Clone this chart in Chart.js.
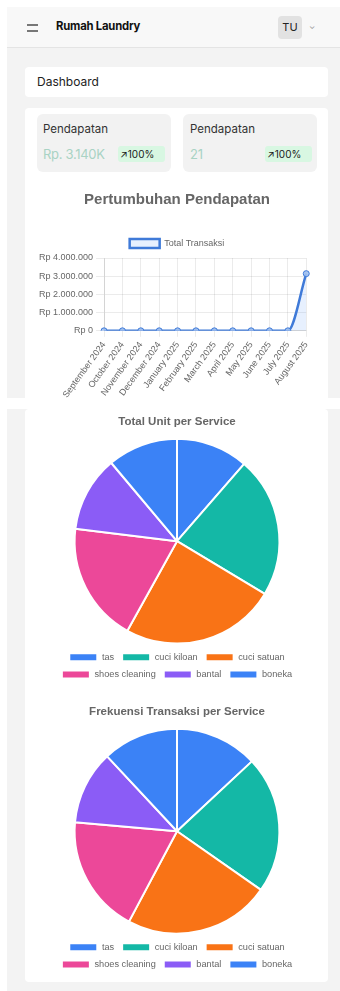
<!DOCTYPE html>
<html>
<head>
<meta charset="utf-8">
<script src="https://cdn.jsdelivr.net/npm/chart.js@4.4.1/dist/chart.umd.min.js"></script>
<style>
html,body{margin:0;padding:0;background:#ffffff;width:340px;height:991px;overflow:hidden;font-family:Inter,'Noto Sans',sans-serif;}
.abs{position:absolute;box-sizing:border-box;}
#page{left:7px;top:7px;width:333px;height:984px;background:#f3f3f3;}
#header{left:7px;top:7px;width:333px;height:41px;background:#f8f8f8;border-bottom:1px solid #e4e4e4;}
.ham{left:27px;width:11px;height:1.5px;background:#777;}
#brand{left:56px;top:19px;font-size:11.3px;font-weight:700;color:#111;letter-spacing:-0.2px;}
#avatar{left:278px;top:16px;width:24px;height:23px;background:#e2e2e2;border-radius:4px;font-size:11px;color:#222;text-align:center;line-height:23px;}
#chev{left:309px;top:21px;font-size:8px;color:#999;}
.card{background:#fff;border-radius:4px;}
#dash{left:25px;top:67px;width:303px;height:30px;}
#dashT{left:37px;top:74px;font-size:12px;color:#222;}
.stat{background:#f2f2f2;border-radius:6px;height:58px;top:114px;}
.statL{font-size:11.5px;color:#333;top:122px;}
.statV{font-size:13px;color:#a9d3c4;top:146px;letter-spacing:-0.3px;}
.badge{background:#d8f7e2;border-radius:3px;height:16px;top:146px;font-size:10px;color:#1a1a1a;line-height:16px;padding:0 2px;}
#band{left:0;top:398px;width:340px;height:11px;background:#fff;}
</style>
</head>
<body>
<div id="page" class="abs"></div>
<div id="header" class="abs"></div>
<div class="abs ham" style="top:24px"></div>
<div class="abs ham" style="top:30px"></div>
<div id="brand" class="abs">Rumah Laundry</div>
<div id="avatar" class="abs">TU</div>
<div id="chev" class="abs">&#8964;</div>

<div id="dash" class="abs card"></div>
<div id="dashT" class="abs">Dashboard</div>

<div class="abs card" style="left:25px;top:108px;width:303px;height:300px;"></div>
<div class="abs stat" style="left:37px;width:134px;"></div>
<div class="abs stat" style="left:183px;width:134px;"></div>
<div class="abs statL" style="left:43px;">Pendapatan</div>
<div class="abs statL" style="left:190px;">Pendapatan</div>
<div class="abs statV" style="left:43px;">Rp. 3.140K</div>
<div class="abs statV" style="left:190px;">21</div>
<div class="abs badge" style="left:118px;width:47px;">&#x2197;100%</div>
<div class="abs badge" style="left:265px;width:47px;">&#x2197;100%</div>

<div id="band" class="abs"></div>
<div class="abs card" style="left:25px;top:409px;width:303px;height:573px;"></div>

<div class="abs" style="left:36px;top:181px;width:282px;height:222px;"><canvas id="lineChart"></canvas></div>
<div class="abs" style="left:37px;top:405px;width:280px;height:284px;"><canvas id="pieUnit"></canvas></div>
<div class="abs" style="left:37px;top:695px;width:280px;height:284px;"><canvas id="pieFreq"></canvas></div>

<script>
// ---- data ----
const months = ['September 2024','October 2024','November 2024','December 2024','January 2025','February 2025','March 2025','April 2025','May 2025','June 2025','July 2025','August 2025'];
const revenue = [0,0,0,0,0,0,0,0,0,0,0,3140000];
const yTickStep = 1000000;
const yMax = 4000000;
const services = ['tas','cuci kiloan','cuci satuan','shoes cleaning','bantal','boneka'];
const unitPerService = [41, 80, 88, 68, 43, 40];
const freqPerService = [47, 78, 83, 67, 42, 43];
const serviceColors = ['#3b82f6','#14b8a6','#f97316','#ec4899','#8b5cf6','#3b82f6'];

const FONT = "'Liberation Sans', Arial, sans-serif";
Chart.defaults.font.family = FONT;
Chart.defaults.color = '#666';

function rupiah(v){
  const s = Math.round(v).toString().replace(/\B(?=(\d{3})+(?!\d))/g, '.');
  return 'Rp ' + s;
}

new Chart(document.getElementById('lineChart'), {
  type: 'line',
  data: {
    labels: months,
    datasets: [{
      label: 'Total Transaksi',
      data: revenue,
      borderColor: '#3f7ad8',
      backgroundColor: 'rgba(59,130,246,0.12)',
      borderWidth: 2.5,
      fill: true,
      cubicInterpolationMode: 'monotone',
      pointRadius: 3,
      pointBackgroundColor: 'rgba(160,192,240,0.9)',
      pointBorderColor: '#3f7ad8',
      pointBorderWidth: 1
    }]
  },
  options: {
    responsive: true,
    maintainAspectRatio: false,
    animation: false,
    plugins: {
      title: {display: true, text: 'Pertumbuhan Pendapatan', color: '#666', font: {size: 15, weight: 'bold'}, padding: {top: 10, bottom: 22}},
      legend: {labels: {font: {size: 9}, boxWidth: 30, boxHeight: 9, padding: 8}},
      tooltip: {enabled: false}
    },
    scales: {
      y: {min: 0, max: yMax, ticks: {stepSize: yTickStep, font: {size: 9}, callback: v => rupiah(v)}, grid: {color: 'rgba(0,0,0,0.08)'}},
      x: {ticks: {minRotation: 54, maxRotation: 54, font: {size: 9}, autoSkip: false}, grid: {color: 'rgba(0,0,0,0.08)', tickLength: 6}}
    }
  }
});

function pie(id, title, values){
  new Chart(document.getElementById(id), {
    type: 'pie',
    data: {labels: services, datasets: [{data: values, backgroundColor: serviceColors, borderColor: '#fff', borderWidth: 2}]},
    options: {
      responsive: true,
      maintainAspectRatio: false,
      animation: false,
      plugins: {
        title: {display: true, text: title, color: '#666', font: {size: 11.5, weight: 'bold'}, padding: {top: 10, bottom: 9}},
        legend: {position: 'bottom', labels: {font: {size: 9.2}, boxWidth: 28, boxHeight: 8, padding: 8}},
        tooltip: {enabled: false}
      }
    }
  });
}
pie('pieUnit', 'Total Unit per Service', unitPerService);
pie('pieFreq', 'Frekuensi Transaksi per Service', freqPerService);
</script>
</body>
</html>
